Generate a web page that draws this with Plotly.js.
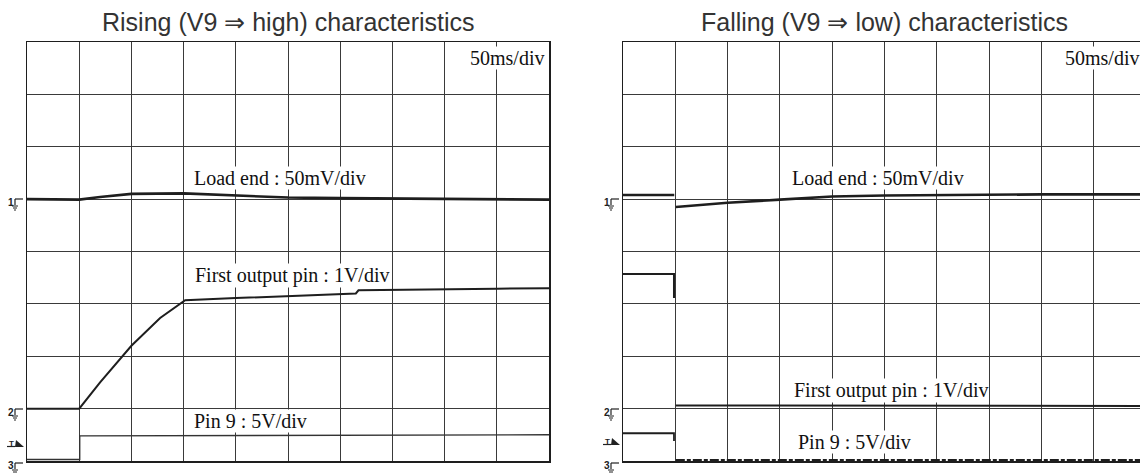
<!DOCTYPE html>
<html>
<head>
<meta charset="utf-8">
<script src="https://cdn.plot.ly/plotly-3.0.1.min.js"></script>
<style>html,body{margin:0;padding:0;background:#fff;}#chart{width:1140px;height:473px;}</style>
</head>
<body>
<div id="chart"></div>
<script>
// ---- Data (in screen divisions: x 0..10, y 0..8) ----
const panelTitles = ["Rising (V9 \u21D2 high) characteristics", "Falling (V9 \u21D2 low) characteristics"];
const timeScale = "50ms/div";
const channelLabels = ["Load end : 50mV/div", "First output pin : 1V/div", "Pin 9 : 5V/div"];

// Rising panel
const loadL_x  = [0, 1.0, 1.4, 2.0, 3.0, 4.0, 5.0, 6.0, 7.0, 8.0, 9.0, 10.0];
const loadL_y  = [5.0, 4.99, 5.04, 5.10, 5.11, 5.07, 5.03, 5.02, 5.01, 5.0, 4.99, 4.99];
const firstL_x = [0, 1.0, 1.4, 2.0, 2.55, 3.03, 4.0, 5.0, 6.0, 6.3, 6.35, 7.0, 8.0, 9.0, 10.0];
const firstL_y = [1.0, 1.0, 1.5, 2.2, 2.73, 3.07, 3.11, 3.15, 3.19, 3.2, 3.26, 3.27, 3.28, 3.29, 3.30];
const pinL_x   = [0, 1.01, 1.01, 10.0];
const pinL_y   = [0.03, 0.03, 0.48, 0.50];

// Falling panel
const loadR_x  = [0, 0.98, null, 1.01, 2.0, 3.0, 4.0, 5.0, 6.0, 7.0, 8.0, 9.0, 9.9];
const loadR_y  = [5.08, 5.08, null, 4.85, 4.93, 4.99, 5.05, 5.07, 5.08, 5.08, 5.09, 5.09, 5.09];
const firstR_x = [0, 0.975, 0.975, null, 1.01, 9.9];
const firstR_y = [3.57, 3.57, 3.11, null, 1.06, 1.05];
const pinR_pre_x  = [0, 0.975, 0.975];
const pinR_pre_y  = [0.53, 0.53, 0.38];
const pinR_post_x = [1.01, 9.9];
const pinR_post_y = [0.02, 0.02];

// ---- Layout geometry ----
const W = 1140, H = 473, TOP = 42, BOT = 461;
const L0 = 27, L1 = 549, R0 = 623, RDIV = 52.3;
const rightRange = (W - R0) / RDIV;

const ink = '#1e1e1e';
const traces = [
  {x: loadL_x, y: loadL_y, xaxis: 'x', yaxis: 'y', mode: 'lines', line: {color: ink, width: 2.6}},
  {x: firstL_x, y: firstL_y, xaxis: 'x', yaxis: 'y', mode: 'lines', line: {color: ink, width: 2}},
  {x: pinL_x, y: pinL_y, xaxis: 'x', yaxis: 'y', mode: 'lines', line: {color: '#333', width: 1.4}},
  {x: loadR_x, y: loadR_y, xaxis: 'x2', yaxis: 'y2', mode: 'lines', line: {color: ink, width: 2.6}},
  {x: firstR_x, y: firstR_y, xaxis: 'x2', yaxis: 'y2', mode: 'lines', line: {color: ink, width: 2}},
  {x: pinR_pre_x, y: pinR_pre_y, xaxis: 'x2', yaxis: 'y2', mode: 'lines', line: {color: ink, width: 1.8}},
  {x: pinR_post_x, y: pinR_post_y, xaxis: 'x2', yaxis: 'y2', mode: 'lines', line: {color: ink, width: 2, dash: '9px,2px,4px,2px'}}
];

function axisX(domain, range, mirror) {
  return {domain: domain, range: range, dtick: 1, tick0: 0, showgrid: true, gridcolor: '#3a3a3a', gridwidth: 1,
    zeroline: false, showticklabels: false, ticks: '', showline: true, linecolor: ink, linewidth: 1.5,
    mirror: mirror, fixedrange: true};
}
function axisY(anchor, mirror) {
  return {domain: [0, 1], range: [0, 8], dtick: 1, tick0: 0, showgrid: true, gridcolor: '#3a3a3a', gridwidth: 1,
    zeroline: false, showticklabels: false, ticks: '', showline: true, linecolor: ink, linewidth: 1.5,
    mirror: mirror, anchor: anchor, fixedrange: true};
}

const serif = {family: 'Liberation Serif, Times New Roman, serif', size: 20, color: '#111'};
const annotations = [];
const shapes = [];

function px2px(x) { return x / W; }
function py2p(y) { return (BOT - y) / (BOT - TOP); }

// Titles
[[L0, L1], [R0, R0 + 10 * RDIV]].forEach((p, i) => {
  annotations.push({text: panelTitles[i], xref: 'paper', yref: 'paper', x: px2px((p[0] + p[1]) / 2), y: py2p(22),
    xanchor: 'center', yanchor: 'middle', showarrow: false,
    font: {family: 'Liberation Sans, Arial, sans-serif', size: 25, color: '#333'}});
});

// Channel labels (data positions in divisions)
function label(text, ax, x, y) {
  annotations.push({text: text, xref: ax[0], yref: ax[1], x: x, y: y, xanchor: 'left', yanchor: 'middle',
    showarrow: false, font: serif, bgcolor: '#fff', borderpad: 0});
}
label(timeScale, ['x', 'y'], 8.47, 7.69);
label(channelLabels[0], ['x', 'y'], 3.18, 5.4);
label(channelLabels[1], ['x', 'y'], 3.19, 3.55);
label(channelLabels[2], ['x', 'y'], 3.18, 0.77);
label(timeScale, ['x2', 'y2'], 8.43, 7.69);
label(channelLabels[0], ['x2', 'y2'], 3.22, 5.4);
label(channelLabels[1], ['x2', 'y2'], 3.25, 1.355);
label(channelLabels[2], ['x2', 'y2'], 3.32, 0.37);

// Channel ground markers and trigger marker (decoration)
function line(x0, y0, x1, y1, w) {
  shapes.push({type: 'line', xref: 'paper', yref: 'paper', x0: px2px(x0), y0: py2p(y0), x1: px2px(x1), y1: py2p(y1),
    line: {color: '#222', width: w || 1}});
}
function groundMarker(border, y, digit) {
  annotations.push({text: '<b>' + digit + '</b>', xref: 'paper', yref: 'paper', x: px2px(border - 16), y: py2p(y + 3),
    xanchor: 'center', yanchor: 'middle', showarrow: false, font: {family: 'Liberation Sans, Arial', size: 10, color: '#222'}});
  line(border - 12, y, border - 4, y, 1.2);
  line(border - 12, y, border - 12, y + 6, 1.2);
  line(border - 15, y + 7, border - 9, y + 7, 1);
  line(border - 14, y + 9, border - 10, y + 9, 1);
  line(border - 13, y + 11, border - 11, y + 11, 1);
}
function trigMarker(border, y) {
  annotations.push({text: '<b>T</b>', xref: 'paper', yref: 'paper', x: px2px(border - 16), y: py2p(y - 1),
    xanchor: 'center', yanchor: 'middle', showarrow: false, font: {family: 'Liberation Sans, Arial', size: 8, color: '#222'}});
  line(border - 20, y + 2.5, border - 12, y + 2.5, 1.2);
  shapes.push({type: 'path', xref: 'paper', yref: 'paper',
    path: 'M ' + px2px(border - 11) + ' ' + py2p(y - 4) + ' L ' + px2px(border - 3) + ' ' + py2p(y + 3) +
          ' L ' + px2px(border - 12) + ' ' + py2p(y + 3) + ' Z',
    fillcolor: '#222', line: {width: 0}});
}
[L0, R0].forEach(b => {
  groundMarker(b, 199, '1');
  groundMarker(b, 409, '2');
  groundMarker(b, 463, '3');
});
trigMarker(L0, 444);
trigMarker(R0, 442);

const layout = {
  width: W, height: H,
  margin: {l: 0, r: 0, t: TOP, b: H - BOT, pad: 0},
  paper_bgcolor: '#fff', plot_bgcolor: '#fff',
  showlegend: false,
  xaxis: axisX([L0 / W, L1 / W], [0, 10], true),
  yaxis: axisY('x', true),
  xaxis2: axisX([R0 / W, 1], [0, rightRange], true),
  yaxis2: axisY('x2', false),
  annotations: annotations,
  shapes: shapes
};
layout.xaxis.anchor = 'y';
layout.xaxis2.anchor = 'y2';

Plotly.newPlot('chart', traces, layout, {staticPlot: true, displayModeBar: false});
</script>
</body>
</html>
